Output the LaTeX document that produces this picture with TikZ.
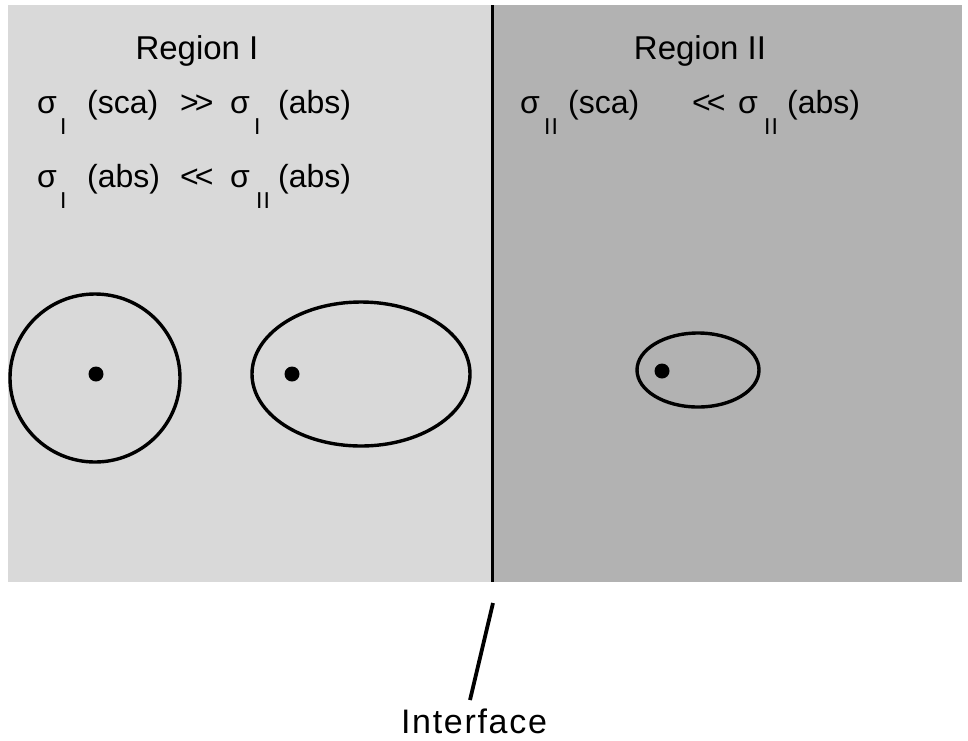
\documentclass[tikz,border=0pt]{standalone}
\usepackage{fontspec}
\setmainfont{Liberation Sans}
\begin{document}
\begin{tikzpicture}[x=1pt,y=-1pt,
  txt/.style={inner sep=0pt,anchor=base west,font=\fontsize{32}{32}\selectfont},
  sub/.style={inner sep=0pt,anchor=north west,font=\fontsize{23}{23}\selectfont},
  head/.style={inner sep=0pt,anchor=base,font=\fontsize{33}{33}\selectfont},
  thick line/.style={line width=3.4pt},
  dotmark/.style={fill=black}]
\useasboundingbox (0,0) rectangle (968,740);
\fill[white] (0,0) rectangle (968,740);
% regions
\fill[black!15] (8,5) rectangle (492,582);
\fill[black!30] (492,5) rectangle (962,582);
\coordinate (itop) at (492,5);
\coordinate (ibot) at (492,582);
\draw[line width=3pt] (itop) -- (ibot);
% headings
\node[head] (r1) at (197,59) {Region I};
\node[head] (r2) at (700,59) {Region II};
% line 1 (baseline 113)
\node[txt] (a1) at (37,113) {σ};
\node[sub] (a2) at (60,118) {I};
\node[txt] (a3) at (87,113) {(sca)};
\node[txt] (a4) at (180,113) {>\kern-4pt>};
\node[txt] (a5) at (230,113) {σ};
\node[sub] (a6) at (254,118) {I};
\node[txt] (a7) at (278,113) {(abs)};
% line 2 (baseline 187)
\node[txt] (b1) at (37,187) {σ};
\node[sub] (b2) at (60,192) {I};
\node[txt] (b3) at (87,187) {(abs)};
\node[txt] (b4) at (180,187) {<\kern-4pt<};
\node[txt] (b5) at (230,187) {σ};
\node[sub] (b6) at (256,192) {I\kern1pt I};
\node[txt] (b7) at (278,187) {(abs)};
% right line (baseline 113)
\node[txt] (c1) at (520,113) {σ};
\node[sub] (c2) at (544,118) {I\kern1pt I};
\node[txt] (c3) at (568,113) {(sca)};
\node[txt] (c4) at (692,113) {<\kern-4pt<};
\node[txt] (c5) at (738,113) {σ};
\node[sub] (c6) at (764,118) {I\kern1pt I};
\node[txt] (c7) at (787,113) {(abs)};
% shapes
\draw[thick line] (95,378) ellipse [x radius=85, y radius=84];
\fill[dotmark] (96,374) circle (7.5);
\draw[thick line] (361,374) ellipse [x radius=109, y radius=72];
\fill[dotmark] (292,374) circle (7.5);
\draw[thick line] (698,370) ellipse [x radius=61, y radius=37];
\fill[dotmark] (662,371) circle (7.5);
% interface label
\node[inner sep=0pt,anchor=base,font=\fontsize{34}{34}\selectfont\addfontfeature{LetterSpace=5}] (iface) at (474,733) {Interface};
\coordinate (ptop) at (493,603);
\coordinate (pbot) at (470,700);
\draw[line width=3.8pt] (ptop) -- (pbot);
\end{tikzpicture}
\end{document}
